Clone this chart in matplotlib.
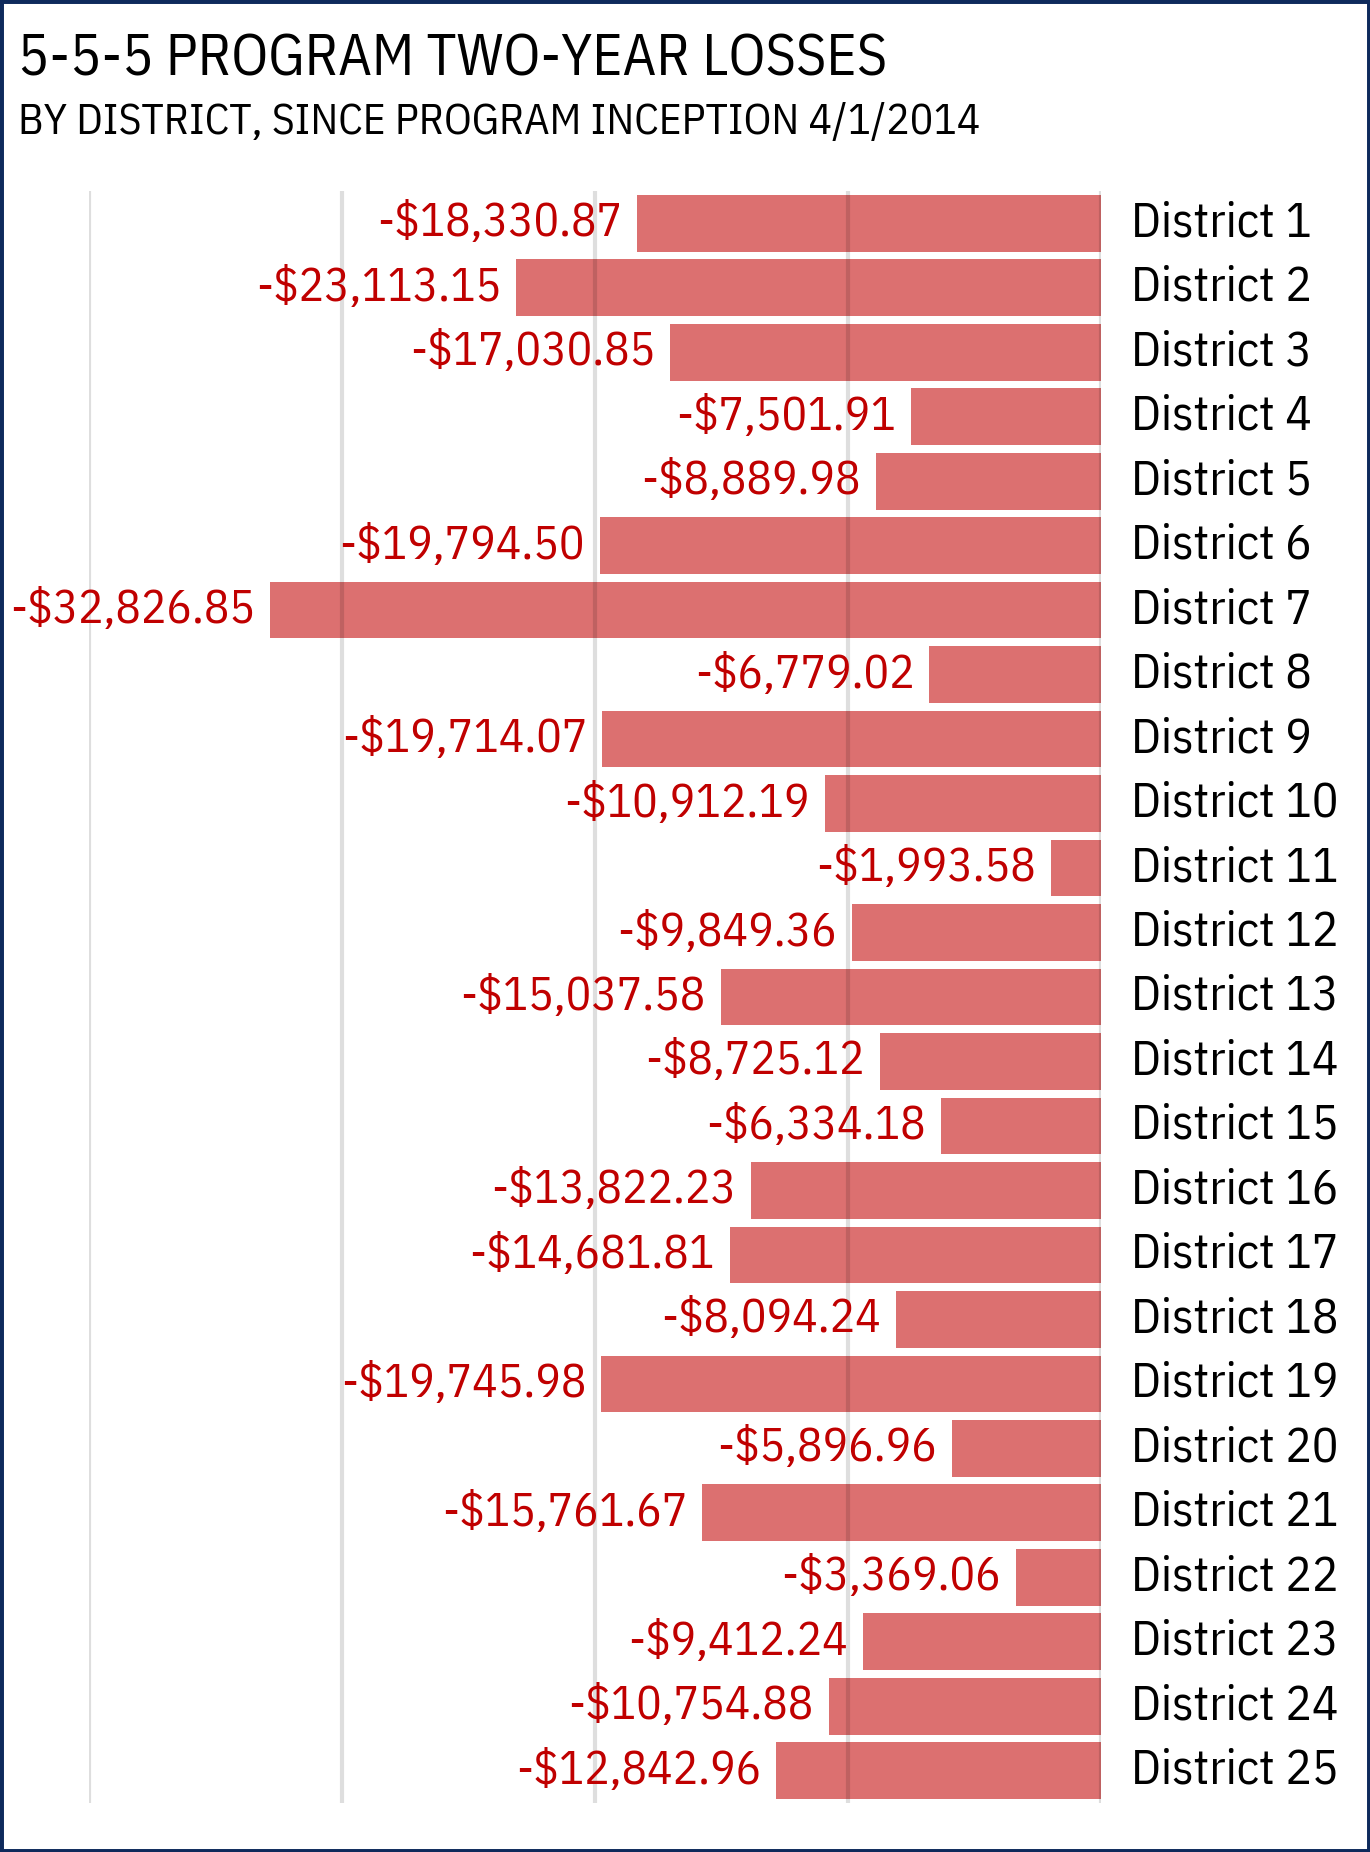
import matplotlib.pyplot as plt
from matplotlib.patches import Rectangle

districts = [f"District {i}" for i in range(1, 26)]
losses = [-18330.87, -23113.15, -17030.85, -7501.91, -8889.98, -19794.50,
          -32826.85, -6779.02, -19714.07, -10912.19, -1993.58, -9849.36,
          -15037.58, -8725.12, -6334.18, -13822.23, -14681.81, -8094.24,
          -19745.98, -5896.96, -15761.67, -3369.06, -9412.24, -10754.88,
          -12842.96]
grid_ticks = [-40000, -30000, -20000, -10000, 0]

FONT = ["IBM Plex Sans Condensed", "Roboto Condensed", "Archivo Narrow",
        "Barlow Semi Condensed", "DejaVu Sans"]
plt.rcParams["font.family"] = FONT

W, H = 1370, 1852
fig = plt.figure(figsize=(W / 100, H / 100), dpi=100)

# axes placed so that -40000..0 spans the gridline area
left, right = 89 / W, 1101 / W
top, bottom = 1 - 191 / H, 1 - 1803 / H
ax = fig.add_axes([left, bottom, right - left, top - bottom])

y = list(range(len(districts)))
ax.barh(y, losses, height=0.88, color="#DC7070", zorder=1)
for t in grid_ticks:
    ax.axvline(t, color="black", alpha=0.13, lw=3, zorder=2)

ax.set_xlim(-40000, 0)
ax.set_ylim(len(districts) - 0.5, -0.5)
ax.axis("off")

for yi, v, name in zip(y, losses, districts):
    ax.text(v - 600, yi, f"-${abs(v):,.2f}", ha="right", va="center",
            color="#C00000", fontsize=34, clip_on=False)
    ax.text(1200, yi, name, ha="left", va="center", color="black",
            fontsize=35.5, clip_on=False)

fig.text(18 / W, 1 - 76 / H, "5-5-5 PROGRAM TWO-YEAR LOSSES", fontsize=41.8,
         ha="left", va="baseline", color="black")
fig.text(18 / W, 1 - 134 / H, "BY DISTRICT, SINCE PROGRAM INCEPTION 4/1/2014",
         fontsize=31.4, ha="left", va="baseline", color="black")

fig.patches.append(Rectangle((0, 0), 1, 1, transform=fig.transFigure,
                             fill=False, edgecolor="#0E2A5C", lw=5))

fig.savefig("out.png", dpi=100)
